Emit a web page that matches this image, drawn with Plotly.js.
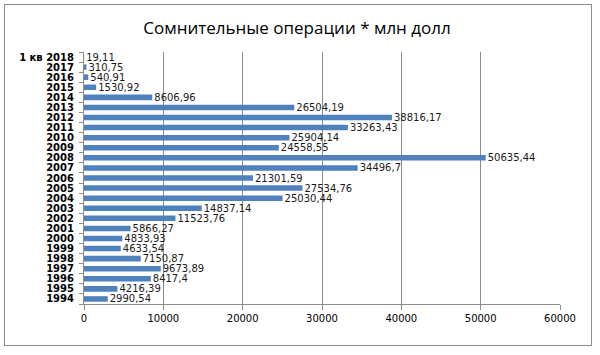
<!DOCTYPE html>
<html>
<head>
<meta charset="utf-8">
<script src="https://cdn.plot.ly/plotly-3.0.1.min.js"></script>
<style>
html,body{margin:0;padding:0;background:#fff;}
#wrap{position:relative;width:600px;height:355px;}
#chart{position:absolute;left:0;top:0;width:600px;height:355px;}
#frame{position:absolute;left:4px;top:4px;width:586px;height:340px;border:1px solid #8c8c8c;pointer-events:none;}
</style>
</head>
<body>
<div id="wrap">
<div id="chart"></div>
<div id="frame"></div>
</div>
<script>
const years = ["1994","1995","1996","1997","1998","1999","2000","2001","2002","2003","2004","2005","2006","2007","2008","2009","2010","2011","2012","2013","2014","2015","2016","2017","1 кв 2018"];
const values = [2990.54,4216.39,8417.4,9673.89,7150.87,4633.54,4833.93,5866.27,11523.76,14837.14,25030.44,27534.76,21301.59,34496.7,50635.44,24558.55,25904.14,33263.43,38816.17,26504.19,8606.96,1530.92,540.91,310.75,19.11];
const labels = values.map(v => '\u2009' + String(v).replace('.', ','));
const xTicks = [0,10000,20000,30000,40000,50000,60000];

const trace = {
  type: 'bar',
  orientation: 'h',
  x: values,
  y: years,
  text: labels,
  textposition: 'outside',
  constraintext: 'none',
  cliponaxis: false,
  textfont: {family: 'DejaVu Sans', size: 10, color: '#1a1a1a'},
  marker: {color: '#4F81BD'},
  hoverinfo: 'none'
};

const layout = {
  width: 600, height: 355,
  margin: {l: 84, r: 40, t: 52, b: 51},
  paper_bgcolor: 'rgba(0,0,0,0)',
  plot_bgcolor: '#fff',
  showlegend: false,
  bargap: 0.45,
  title: {
    text: 'Сомнительные операции * млн долл',
    font: {family: 'Open Sans', size: 17, color: '#000', weight: 500},
    x: 0.495, xanchor: 'center',
    yref: 'container', y: 0.921, yanchor: 'middle'
  },
  xaxis: {
    range: [0, 60000],
    tickvals: xTicks,
    ticktext: xTicks.map(String),
    showgrid: true, gridcolor: '#8c8c8c', gridwidth: 1,
    zeroline: false,
    showline: true, linecolor: '#8c8c8c', linewidth: 1,
    ticks: 'outside', ticklen: 5, tickcolor: '#8c8c8c',
    tickfont: {family: 'DejaVu Sans', size: 10, color: '#000'},
    fixedrange: true
  },
  yaxis: {
    type: 'category',
    categoryorder: 'array', categoryarray: years,
    tickmode: 'array', tickvals: years, ticktext: years,
    tickson: 'boundaries',
    ticks: 'outside', ticklen: 4, tickcolor: '#8c8c8c',
    ticklabelstandoff: 7,
    showline: true, linecolor: '#8c8c8c', linewidth: 1,
    showgrid: false,
    tickfont: {family: 'DejaVu Sans', size: 10, color: '#000', weight: 'bold'},
    fixedrange: true
  }
};

Plotly.newPlot('chart', [trace], layout, {displayModeBar: false, staticPlot: true});
</script>
</body>
</html>
